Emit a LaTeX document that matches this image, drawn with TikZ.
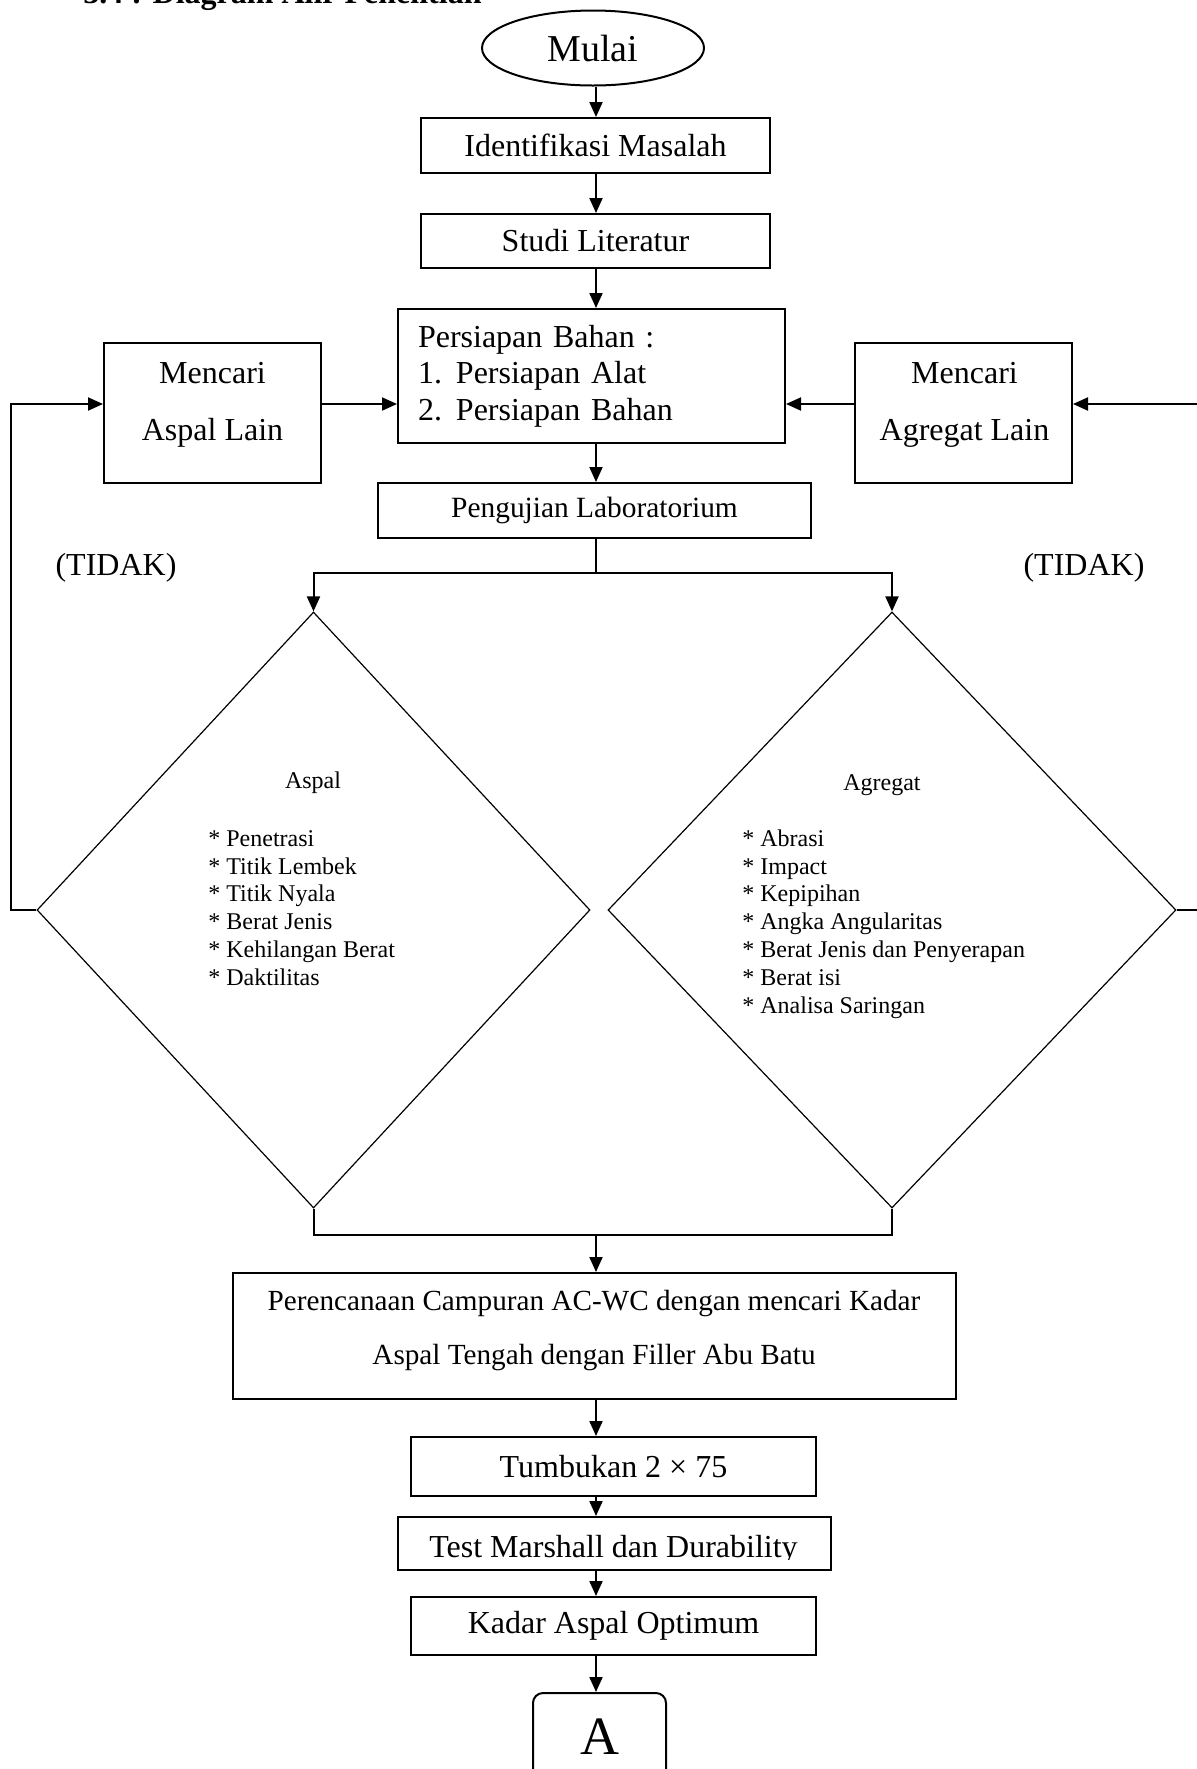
\documentclass[tikz,border=0pt]{standalone}
\usepackage{fontspec}
\setmainfont{Liberation Serif}
\usetikzlibrary{arrows.meta,shapes.geometric}
\newcommand{\fsz}[2]{\fontsize{#1}{#2}\selectfont}
\begin{document}
\begin{tikzpicture}[x=0.5pt,y=-0.5pt,
  box/.style={draw, line width=1pt, inner sep=0pt, font=\fsz{16}{19}},
  arr/.style={line width=1pt, -{Triangle[length=7.5pt,width=6.5pt]}},
  ln/.style={line width=1pt},
  dia/.style={draw, diamond, line width=0.6pt, inner sep=0pt},
  txt/.style={inner sep=0pt, font=\fsz{16}{19}},
  small/.style={inner sep=0pt, font=\fsz{12}{13.9}, align=left},
]
\path[use as bounding box] (0,0) rectangle (1197,1769);
\clip (0,0) rectangle (1197,1769);

\node[anchor=base west, inner sep=0pt, font=\bfseries\fsz{16}{19}] (head) at (83,3) {3.4 : Diagram Alir Penelitian};

\coordinate (spine) at (596,0);

\node[draw, ellipse, line width=1pt, minimum width=111pt, minimum height=37.5pt, inner sep=0pt, font=\fsz{19}{22}] (mulai) at (593,48) {Mulai};
\node[box, minimum width=174.5pt, minimum height=27.5pt] (ident) at (595.5,145.5) {Identifikasi Masalah};
\node[box, minimum width=174.5pt, minimum height=27pt] (studi) at (595.5,241) {Studi Literatur};
\node[box, minimum width=193.5pt, minimum height=67pt, text width=173.5pt, align=left, font=\fsz{16}{18.25}] (persiapan) at (591.5,376) {Persiapan Bahan :\\\makebox[19pt][l]{1.}Persiapan Alat\\\makebox[19pt][l]{2.}Persiapan Bahan};

\node[box, minimum width=108.5pt, minimum height=70pt] (aspallain) at (212.5,413) {};
\node[txt, align=center, font=\fsz{16}{28.5}] (aspallainT) at (212.5,404.5) {Mencari\\Aspal Lain};
\node[box, minimum width=108.5pt, minimum height=70pt] (agrlain) at (963.5,413) {};
\node[txt, align=center, font=\fsz{16}{28.5}] (agrlainT) at (964.5,404.5) {Mencari\\Agregat Lain};

\node[box, minimum width=216.5pt, minimum height=27.5pt, font=\fsz{14.7}{17}] (pengujian) at (594.5,510.5) {Pengujian Laboratorium};

\node[txt] (tidakL) at (116,568) {(TIDAK)};
\node[txt] (tidakR) at (1084,568) {(TIDAK)};

\node[dia, minimum width=276.5pt, minimum height=298pt] (dA) at (313.5,910) {};
\node[dia, minimum width=284pt, minimum height=298pt] (dG) at (892,910) {};

\node[inner sep=0pt, font=\fsz{12}{14}] (dAT) at (313,783) {Aspal};
\node[small, anchor=west] (dAL) at (208,908) {* Penetrasi\\* Titik Lembek\\* Titik Nyala\\* Berat Jenis\\* Kehilangan Berat\\* Daktilitas};
\node[inner sep=0pt, font=\fsz{12}{14}] (dGT) at (882,785) {Agregat};
\node[small, anchor=west] (dGL) at (742,924) {* Abrasi\\* Impact\\* Kepipihan\\* Angka Angularitas\\* Berat Jenis dan Penyerapan\\* Berat isi\\* Analisa Saringan};

\node[box, minimum width=361.5pt, minimum height=63pt] (perenc) at (594.5,1336) {};
\node[txt, align=center, font=\fsz{14.6}{27}] (perencT) at (594,1331) {Perencanaan Campuran AC-WC dengan mencari Kadar\\Aspal Tengah dengan Filler Abu Batu};
\node[box, minimum width=202.5pt, minimum height=29.5pt] (tumbukan) at (613.5,1466.5) {Tumbukan 2 × 75};
\node[box, minimum width=216.5pt, minimum height=26.5pt] (test) at (614.5,1543.5) {};
\begin{scope}
\clip (398,1517) rectangle (831,1559);
\node[txt, anchor=base] (testT) at (613.5,1557) {Test Marshall dan Durability};
\end{scope}
\node[box, minimum width=202.5pt, minimum height=29pt] (kadar) at (613.5,1626) {Kadar Aspal Optimum};
\node[draw, line width=1pt, rounded corners=5pt, minimum width=66.5pt, minimum height=60pt, inner sep=0pt] (aBox) at (599.5,1753) {};
\node[inner sep=0pt, font=\fsz{27}{30}] (aT) at (600,1737) {A};

% main spine
\draw[arr] (mulai.south -| spine) -- (ident.north -| spine);
\draw[arr] (ident.south -| spine) -- (studi.north -| spine);
\draw[arr] (studi.south -| spine) -- (persiapan.north -| spine);
\draw[arr] (persiapan.south -| spine) -- (pengujian.north -| spine);
\coordinate (split) at (596,573);
\draw[ln] (pengujian.south -| spine) -- (split);
\draw[arr] (split) -| (dA.north);
\draw[arr] (split) -| (dG.north);

\coordinate (merge) at (596,1235);
\draw[ln] (dA.south) |- (merge);
\draw[ln] (dG.south) |- (merge);
\draw[arr] (merge) -- (perenc.north -| spine);

% feedback loops
\coordinate (fbL) at (11,404);
\coordinate (fbR) at (1210,404);
\draw[arr] (dA.west) -| (fbL) -- (fbL -| aspallain.west);
\draw[arr] (aspallain.east |- fbL) -- (persiapan.west |- fbL);
\draw[arr] (dG.east) -| (fbR) -- (fbR -| agrlain.east);
\draw[arr] (agrlain.west |- fbR) -- (persiapan.east |- fbR);

% bottom
\draw[arr] (perenc.south -| spine) -- (tumbukan.north -| spine);
\draw[arr] (tumbukan.south -| spine) -- (test.north -| spine);
\draw[arr] (test.south -| spine) -- (kadar.north -| spine);
\draw[arr] (kadar.south -| spine) -- (aBox.north -| spine);
\end{tikzpicture}
\end{document}
